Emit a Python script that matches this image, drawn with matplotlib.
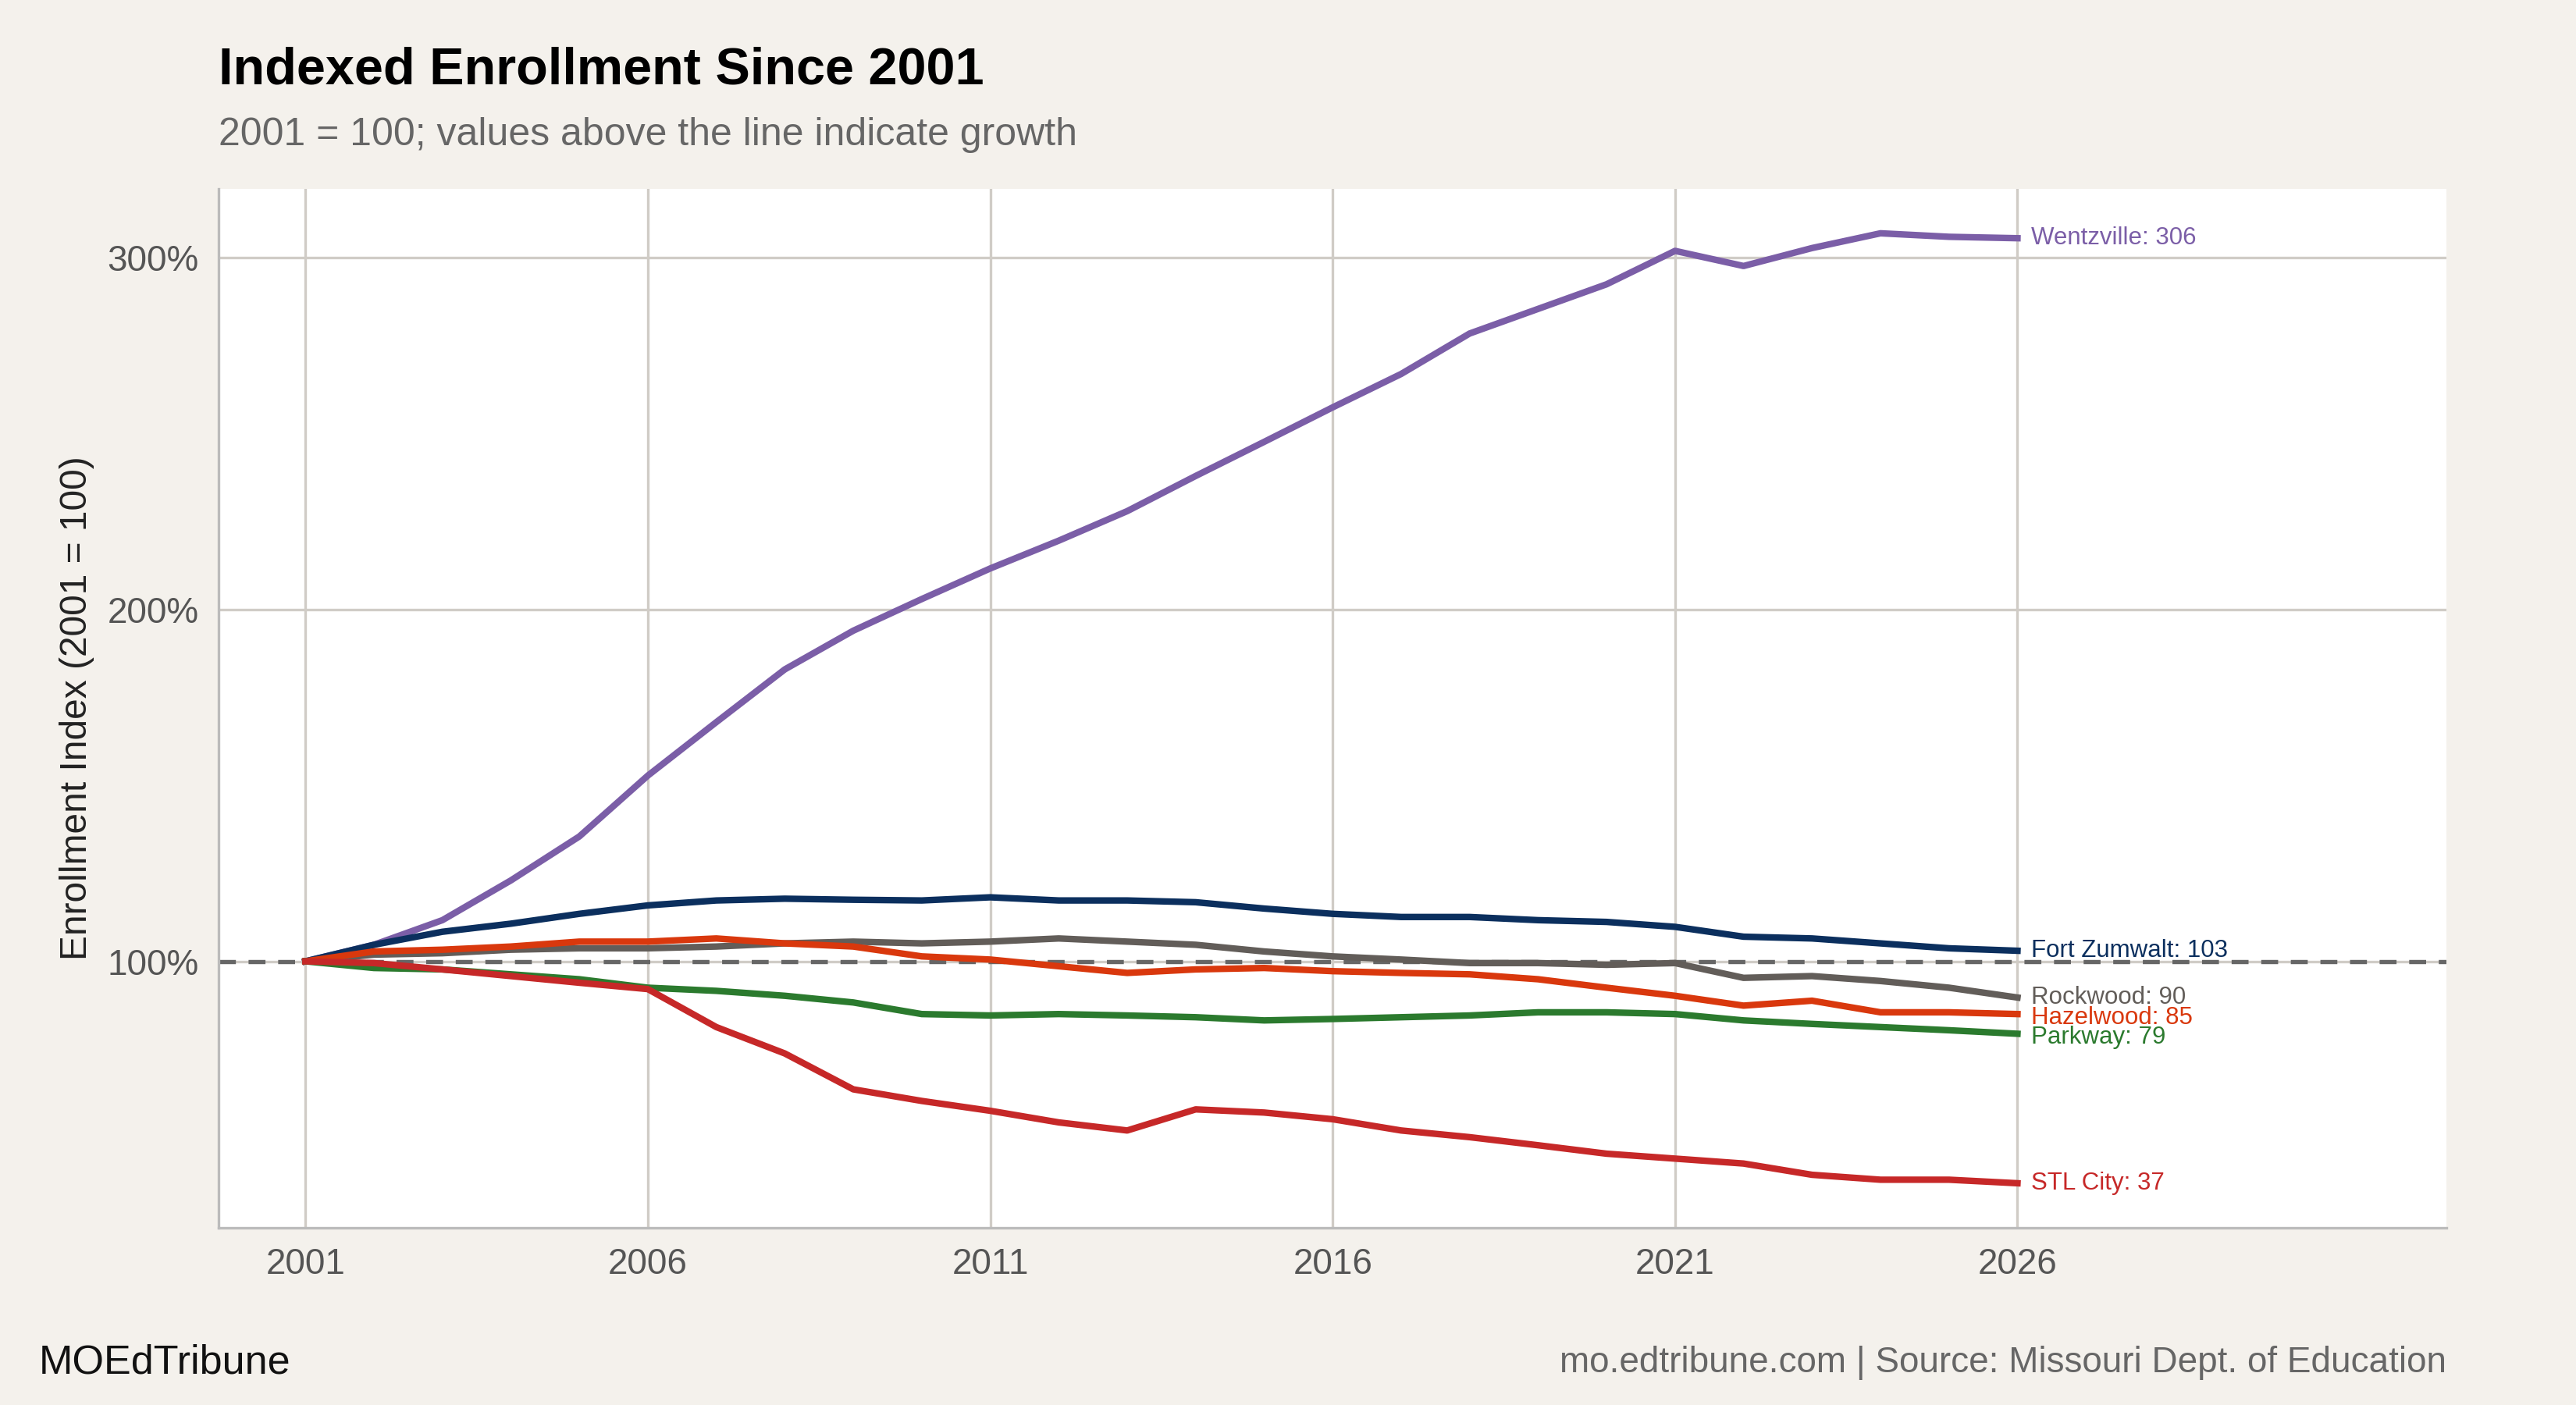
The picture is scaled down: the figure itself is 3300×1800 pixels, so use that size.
import matplotlib.pyplot as plt
import numpy as np

plt.rcParams['font.family'] = ['Liberation Sans', 'DejaVu Sans']

years = np.arange(2001, 2027)

wentzville = [100, 104.7, 111.7, 123, 135.5, 152.8, 168, 183, 194, 203, 211.7, 219.6, 228,
              238, 247.7, 257.5, 267, 278.5, 285.5, 292.5, 302, 297.7, 302.8, 307, 306, 305.6]
fort_zumwalt = [100, 104.7, 108.4, 110.7, 113.5, 115.9, 117.3, 117.8, 117.5, 117.3, 118.2, 117.3, 117.3,
                116.8, 115, 113.5, 112.6, 112.6, 111.7, 111.2, 109.8, 107, 106.5, 105.1, 103.7, 103]
rockwood = [100, 101.9, 102.3, 103.3, 103.7, 103.7, 104.2, 105.1, 105.6, 105.1, 105.6, 106.5, 105.6,
            104.7, 102.8, 101.4, 100.5, 99.5, 99.5, 99, 99.5, 95.3, 95.8, 94.4, 92.5, 89.7]
hazelwood = [100, 102.8, 103.3, 104.2, 105.6, 105.6, 106.5, 105.1, 104.2, 101.4, 100.5, 98.6, 96.7,
             97.7, 98.1, 97.2, 96.7, 96.3, 94.9, 92.5, 90.2, 87.4, 88.8, 85.5, 85.5, 85]
parkway = [100, 98.1, 97.7, 96.3, 94.9, 92.5, 91.6, 90.2, 88.3, 85, 84.6, 85, 84.6,
           84.1, 83.2, 83.6, 84.1, 84.6, 85.5, 85.5, 85, 83.2, 82.2, 81.3, 80.4, 79.4]
stl_city = [100, 99.5, 97.7, 95.8, 93.9, 92.1, 81.3, 73.8, 63.6, 60.3, 57.5, 54.2, 51.9,
            57.9, 57, 55.1, 51.9, 50, 47.7, 45.3, 43.9, 42.5, 39.3, 37.9, 37.9, 36.9]

series = [
    ("Wentzville", wentzville, "#7b5ea7", 0),
    ("Fort Zumwalt", fort_zumwalt, "#0b2f5e", 0),
    ("Rockwood", rockwood, "#625d59", 0),
    ("Hazelwood", hazelwood, "#d9380d", -1),
    ("Parkway", parkway, "#2b7a2e", -1),
    ("STL City", stl_city, "#c62828", 0),
]

fig = plt.figure(figsize=(11, 6), dpi=300, facecolor="#f4f1ec")
ax = fig.add_axes([0.0848, 0.1263, 0.8648, 0.7392])
ax.set_facecolor("white")

ax.axhline(100, color="#666666", ls=(0, (4, 3)), lw=1.3, zorder=2)
for name, vals, col, dy in series:
    ax.plot(years, vals, color=col, lw=2, zorder=3)
    ax.text(2026.2, vals[-1] + dy, f"{name}: {round(vals[-1])}", color=col,
            fontsize=7.5, va="center", ha="left")

ax.set_xlim(1999.73, 2032.26)
ax.set_ylim(24.3, 319.6)
ax.set_xticks([2001, 2006, 2011, 2016, 2021, 2026])
ax.set_yticks([100, 200, 300])
ax.set_yticklabels(["100%", "200%", "300%"])
ax.grid(True, color="#d0ccc6", lw=0.8, zorder=0)
ax.tick_params(length=0, labelsize=11, labelcolor="#555555", pad=6)
for s in ["top", "right"]:
    ax.spines[s].set_visible(False)
for s in ["left", "bottom"]:
    ax.spines[s].set_color("#bbbbbb")
ax.set_ylabel("Enrollment Index (2001 = 100)", fontsize=11.5, color="#222222")

fig.text(0.0848, 0.95, "Indexed Enrollment Since 2001", fontsize=16, fontweight="bold",
         va="center", ha="left")
fig.text(0.0848, 0.904, "2001 = 100; values above the line indicate growth", fontsize=12,
         color="#666666", va="center", ha="left")
fig.text(0.015, 0.03, "MOEdTribune", fontsize=12.5, color="#111111", va="center", ha="left")
fig.text(0.9496, 0.03, "mo.edtribune.com | Source: Missouri Dept. of Education", fontsize=11,
         color="#666666", va="center", ha="right")

fig.savefig("out.png", dpi=300, facecolor=fig.get_facecolor())
